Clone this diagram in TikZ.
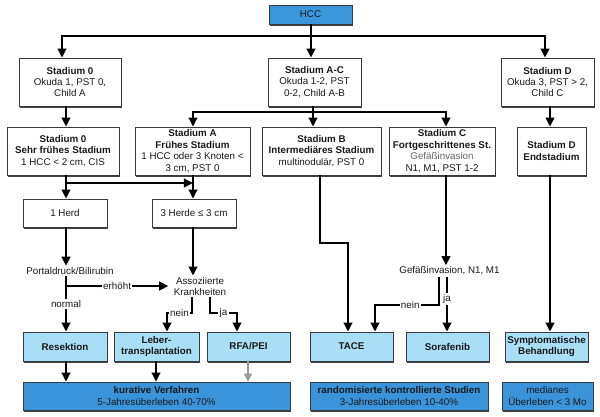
\documentclass[tikz,border=0pt]{standalone}
\usepackage{fontspec}
\setmainfont{Liberation Sans}
\usetikzlibrary{arrows.meta,shadows}
\definecolor{hccblue}{HTML}{3B97DC}
\definecolor{lightblue}{HTML}{A8DEF6}
\definecolor{darkblue}{HTML}{3A94DA}
\definecolor{frame}{HTML}{3A3A3A}
\begin{document}
\begin{tikzpicture}[x=0.75pt,y=-0.75pt,
  every node/.style={font=\fontsize{7.35}{8.6}\selectfont, text=black!90},
  box/.style={draw=frame, line width=0.6pt, fill=white, inner sep=0pt, align=center,
    drop shadow={shadow xshift=0.7pt, shadow yshift=-1.5pt, fill=black!75, opacity=1}},
  lbox/.style={box, fill=lightblue},
  dbox/.style={box, fill=darkblue},
  txt/.style={inner sep=1pt, align=center},
  conn/.style={line width=1.5pt, draw=black},
  arr/.style={conn, -{Triangle[length=6.8pt,width=6.5pt]}},
  grayarr/.style={line width=1.2pt, draw=black!40, -{Triangle[length=6pt,width=6pt]}},
  lbl/.style={fill=white, inner sep=1pt}]
\fill[white] (0,0) rectangle (600,417);
\useasboundingbox (0,0) rectangle (600,417);

% boxes
\node[box, fill=hccblue, minimum width=62.25pt, minimum height=14.25pt] (hcc) at (310.5,14.5) {HCC};
\node[box, minimum width=76.5pt, minimum height=36pt] (s0) at (70,82) {\textbf{Stadium 0}\\Okuda 1, PST 0,\\Child A};
\node[box, minimum width=69.75pt, minimum height=36pt] (sAC) at (314.5,82) {\textbf{Stadium A-C}\\Okuda 1-2, PST\\0-2, Child A-B};
\node[box, minimum width=69.75pt, minimum height=36pt] (sD) at (547.5,82) {\textbf{Stadium D}\\Okuda 3, PST > 2,\\Child C};

\node[box, minimum width=84pt, minimum height=36pt] (s0b) at (63,151) {\textbf{Stadium 0}\\\textbf{Sehr frühes Stadium}\\1 HCC < 2 cm, CIS};
\node[box, minimum width=86.25pt, minimum height=36pt] (sA) at (192.5,151) {\textbf{Stadium A}\\\textbf{Frühes Stadium}\\1 HCC oder 3 Knoten <\\3 cm, PST 0};
\node[box, minimum width=89.25pt, minimum height=36pt] (sB) at (321.5,151) {\textbf{Stadium B}\\\textbf{Intermediäres Stadium}\\multinodulär, PST 0};
\node[box, minimum width=79.5pt, minimum height=36pt] (sC) at (442,151) {\textbf{Stadium C}\\\textbf{Fortgeschrittenes St.}\\\textcolor{black!60}{Gefäßinvasion}\\N1, M1, PST 1-2};
\node[box, minimum width=51.75pt, minimum height=36pt] (sDe) at (551.5,151) {\textbf{Stadium D}\\\textbf{Endstadium}};

\node[box, minimum width=63pt, minimum height=21pt] (herd1) at (65,213) {1 Herd};
\node[box, minimum width=63pt, minimum height=21pt] (herd3) at (194,213) {3 Herde ≤ 3 cm};

\node[txt] (portal) at (70,271) {Portaldruck/Bilirubin};
\node[txt, inner xsep=4pt] (assoz) at (200,286.5) {Assoziierte\\Krankheiten};
\node[txt] (gef) at (449.5,271) {Gefäßinvasion, N1, M1};

\node[lbox, minimum width=63pt, minimum height=21.75pt] (res) at (65,346.5) {\textbf{Resektion}};
\node[lbox, minimum width=63.75pt, minimum height=21.75pt] (leb) at (156.5,346.5) {\textbf{Leber-}\\\textbf{transplantation}};
\node[lbox, minimum width=62.25pt, minimum height=21.75pt] (rfa) at (248.5,346.5) {\textbf{RFA/PEI}};
\node[lbox, minimum width=62.25pt, minimum height=21.75pt] (tace) at (351.5,346.5) {\textbf{TACE}};
\node[lbox, minimum width=62.25pt, minimum height=21.75pt] (sora) at (447.5,346.5) {\textbf{Sorafenib}};
\node[lbox, minimum width=62.25pt, minimum height=21.75pt] (sym) at (546.5,346.5) {\textbf{Symptomatische}\\\textbf{Behandlung}};

\node[dbox, minimum width=200.25pt, minimum height=21pt] (kur) at (156.5,396) {\textbf{kurative Verfahren}\\5-Jahresüberleben 40-70\%};
\node[dbox, minimum width=133.5pt, minimum height=21pt] (rand) at (399,396) {\textbf{randomisierte kontrollierte Studien}\\3-Jahresüberleben 10-40\%};
\node[dbox, minimum width=68.25pt, minimum height=21pt] (med) at (547.5,396) {medianes\\Überleben < 3 Mo};

% column coordinates
\coordinate (colA) at (66,0);
\coordinate (colB) at (193,0);
\coordinate (colC) at (446,0);
\coordinate (colD) at (550,0);
\coordinate (colL) at (156,0);
\coordinate (colR) at (248,0);
\coordinate (jTop) at (311,36);
\coordinate (jL) at (62,0);
\coordinate (jR) at (545,0);
\coordinate (jM) at (313,112);
\coordinate (h1) at (66,183);
\coordinate (pj) at (66,286);
\coordinate (an1) at (192,313);
\coordinate (an2) at (167,313);
\coordinate (aj1) at (210,313);
\coordinate (aj2) at (237,313);
\coordinate (b1) at (320,243);
\coordinate (b2) at (348,243);
\coordinate (gn1) at (439,305);
\coordinate (gn2) at (375,305);
\coordinate (gj) at (447,0);

% connectors
\draw[arr] (hcc.south -| jTop) -- (jTop |- sAC.north);
\draw[arr] (jTop) -| (jL |- s0.north);
\draw[arr] (jTop) -| (jR |- sD.north);

\draw[conn] (sAC.south -| jM) -- (jM);
\draw[arr] (jM) -| (sA.north -| colB);
\draw[arr] (jM) -| (sC.north -| colC);
\draw[arr] (jM) -- (jM |- sB.north);

\draw[arr] (s0.south -| colA) -- (s0b.north -| colA);
\draw[arr] (sD.south -| colD) -- (sDe.north -| colD);
\draw[arr] (s0b.south -| colA) -- (herd1.north -| colA);
\draw[arr] (h1) -- (h1 -| colB);
\draw[arr] (sA.south -| colB) -- (herd3.north -| colB);

\draw[arr] (herd1.south -| colA) -- (portal.north -| colA);
\draw[arr] (herd3.south -| colB) -- (assoz.north -| colB);
\draw[arr] (portal.south -| colA) -- node[lbl]{normal} (res.north -| colA);
\draw[arr] (pj) -- node[lbl]{erhöht} (pj -| assoz.west);

\draw[arr] (assoz.south -| an1) -- (an1) -- node[lbl]{nein} (an2) -- (leb.north -| an2);
\draw[arr] (assoz.south -| aj1) -- (aj1) -- node[lbl]{ja} (aj2) -- (rfa.north -| aj2);

\draw[arr] (sB.south -| b1) |- (b2) -- (tace.north -| b2);
\draw[arr] (sC.south -| colC) -- (gef.north -| colC);
\draw[arr] (gef.south -| gn1) -- (gn1) -- node[lbl, pos=0.45]{nein} (gn2) -- (tace.north -| gn2);
\draw[arr] (gef.south -| gj) -- node[lbl, pos=0.4]{ja} (sora.north -| gj);
\draw[arr] (sDe.south -| colD) -- (sym.north -| colD);

\draw[arr] (res.south -| colA) -- (kur.north -| colA);
\draw[arr] (leb.south -| colL) -- (kur.north -| colL);
\draw[grayarr] (rfa.south -| colR) -- (kur.north -| colR);
\end{tikzpicture}
\end{document}
